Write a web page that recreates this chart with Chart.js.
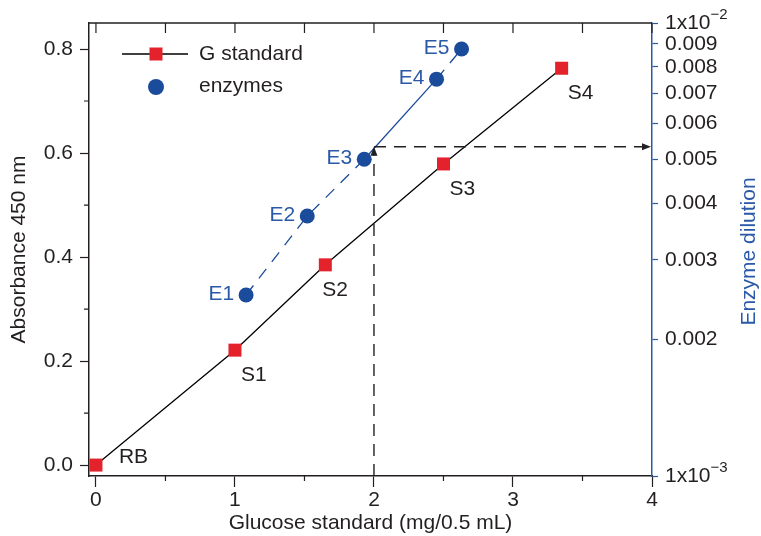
<!DOCTYPE html>
<html>
<head>
<meta charset="utf-8">
<script src="https://cdn.jsdelivr.net/npm/chart.js@4.4.1/dist/chart.umd.min.js"></script>
<style>
  html, body { margin: 0; padding: 0; background: #fff; }
  #wrap { width: 761px; height: 536px; }
</style>
</head>
<body>
<div id="wrap"><canvas id="grafico"></canvas></div>
<script>
// curva estandar de glucosa
const stdNames = ['RB', 'S1', 'S2', 'S3', 'S4'];
const stdGlucose = [0, 1, 1.65, 2.5, 3.35];
const stdAbs = [0, 0.221, 0.385, 0.579, 0.763];

// muestras de enzima
const enzNames = ['E1', 'E2', 'E3', 'E4', 'E5'];
const enzGlucose = [1.08, 1.52, 1.93, 2.45, 2.63];
const enzAbs = [0.327, 0.479, 0.588, 0.742, 0.80];

// lectura de referencia (flechas)
const refGlucose = 2;
const refAbs = 0.612;

// ejes
const xTicks = [0, 1, 2, 3, 4];
const xMinor = [0.5, 1.5, 2.5, 3.5];
const yTicks = [0, 0.2, 0.4, 0.6, 0.8];
const yMinor = [0.1, 0.3, 0.5, 0.7];
const dilutionTicks = [0.001, 0.002, 0.003, 0.004, 0.005, 0.006, 0.007, 0.008, 0.009, 0.01];
const dilutionMin = 0.001;
const dilutionMax = 0.01;

const FONT = 'Liberation Sans, Arial, Helvetica, sans-serif';
const FS = 21;
const TXT = '#231f20';
const RED = '#e3222b';
const BLUE = '#1b4b9b';
const BLUE_TXT = '#2a59a8';

function pts(xs, ys) {
  return xs.map((x, i) => ({ x: x, y: ys[i] }));
}

// etiquetas de los puntos, ejes extra, flechas y leyenda
const decoraciones = {
  id: 'decoraciones',
  afterDatasetsDraw(chart) {
    const ctx = chart.ctx;
    const xs = chart.scales.x, ys = chart.scales.y, y2 = chart.scales.y2;
    const area = chart.chartArea;
    ctx.save();

    // linea superior + ticks hacia dentro
    ctx.strokeStyle = TXT;
    ctx.lineWidth = 1.5;
    ctx.beginPath();
    ctx.moveTo(area.left, area.top);
    ctx.lineTo(area.right, area.top);
    ctx.stroke();
    ctx.lineWidth = 1.2;
    ctx.beginPath();
    xTicks.concat(xMinor).forEach(v => {
      const px = xs.getPixelForValue(v);
      ctx.moveTo(px, area.top);
      ctx.lineTo(px, area.top + 10);
    });
    // ticks menores abajo e izquierda
    xMinor.forEach(v => {
      const px = xs.getPixelForValue(v);
      ctx.moveTo(px, area.bottom);
      ctx.lineTo(px, area.bottom + 5);
    });
    yMinor.forEach(v => {
      const py = ys.getPixelForValue(v);
      ctx.moveTo(area.left, py);
      ctx.lineTo(area.left - 5, py);
    });
    ctx.stroke();

    // flechas punteadas
    const ax = xs.getPixelForValue(refGlucose);
    const ay = ys.getPixelForValue(refAbs);
    ctx.setLineDash([12, 8]);
    ctx.lineWidth = 1.4;
    ctx.beginPath();
    ctx.moveTo(ax, area.bottom);
    ctx.lineTo(ax, ay + 7);
    ctx.moveTo(ax, ay);
    ctx.lineTo(area.right - 8, ay);
    ctx.stroke();
    ctx.setLineDash([]);
    ctx.fillStyle = TXT;
    ctx.beginPath();
    ctx.moveTo(ax, ay);
    ctx.lineTo(ax - 3.5, ay + 9);
    ctx.lineTo(ax + 3.5, ay + 9);
    ctx.closePath();
    ctx.fill();
    ctx.beginPath();
    ctx.moveTo(area.right - 1, ay);
    ctx.lineTo(area.right - 10, ay - 3.5);
    ctx.lineTo(area.right - 10, ay + 3.5);
    ctx.closePath();
    ctx.fill();

    // etiquetas de puntos
    ctx.font = FS + 'px ' + FONT;
    ctx.textBaseline = 'middle';
    ctx.fillStyle = TXT;
    ctx.textAlign = 'left';
    stdNames.forEach((n, i) => {
      const px = xs.getPixelForValue(stdGlucose[i]);
      const py = ys.getPixelForValue(stdAbs[i]);
      if (i === 0) ctx.fillText(n, px + 23, py - 8);
      else ctx.fillText(n, px + (i === 2 ? -3 : 6), py + 25);
    });
    ctx.fillStyle = BLUE_TXT;
    ctx.textAlign = 'right';
    enzNames.forEach((n, i) => {
      const px = xs.getPixelForValue(enzGlucose[i]);
      const py = ys.getPixelForValue(enzAbs[i]);
      ctx.fillText(n, px - 12, py - 1);
    });

    // etiquetas 1x10^n del eje derecho
    ctx.fillStyle = TXT;
    ctx.textAlign = 'left';
    [dilutionMin, dilutionMax].forEach(v => {
      const py = y2.getPixelForValue(v);
      const exp = Math.round(Math.log10(v));
      ctx.font = FS + 'px ' + FONT;
      ctx.fillText('1x10', 665, py);
      const w = ctx.measureText('1x10').width;
      ctx.font = '15px ' + FONT;
      ctx.fillText('\u2212' + (-exp), 665 + w, py - 8);
    });

    // titulo derecho
    ctx.font = FS + 'px ' + FONT;
    ctx.fillStyle = BLUE_TXT;
    ctx.textAlign = 'center';
    ctx.translate(749, (area.top + area.bottom) / 2 + 2);
    ctx.rotate(-Math.PI / 2);
    ctx.fillText('Enzyme dilution', 0, 0);
    ctx.restore();

    // leyenda
    ctx.save();
    ctx.strokeStyle = '#000';
    ctx.lineWidth = 1.3;
    ctx.beginPath();
    ctx.moveTo(122, 54);
    ctx.lineTo(188, 54);
    ctx.stroke();
    ctx.fillStyle = RED;
    ctx.fillRect(149.5, 47.5, 13, 13);
    ctx.fillStyle = BLUE;
    ctx.beginPath();
    ctx.arc(156, 87, 8, 0, Math.PI * 2);
    ctx.fill();
    ctx.font = FS + 'px ' + FONT;
    ctx.fillStyle = TXT;
    ctx.textBaseline = 'middle';
    ctx.textAlign = 'left';
    ctx.fillText('G standard', 199, 54);
    ctx.fillText('enzymes', 199, 86);
    ctx.restore();
  }
};

const grafico = new Chart(document.getElementById('grafico'), {
  type: 'scatter',
  data: {
    datasets: [
      {
        label: 'G standard',
        data: pts(stdGlucose, stdAbs),
        showLine: true,
        borderColor: '#000',
        borderWidth: 1.3,
        pointStyle: 'rect',
        pointRadius: 9.2,
        pointHoverRadius: 9.2,
        pointBackgroundColor: RED,
        pointBorderWidth: 0,
        yAxisID: 'y'
      },
      {
        label: 'enzymes',
        data: pts(enzGlucose, enzAbs),
        showLine: true,
        borderColor: BLUE,
        borderWidth: 1.3,
        segment: {
          borderDash: c => (c.p0DataIndex === 2 ? [] : [12, 9])
        },
        pointStyle: 'circle',
        pointRadius: 7.5,
        pointHoverRadius: 7.5,
        pointBackgroundColor: BLUE,
        pointBorderWidth: 0,
        yAxisID: 'y'
      }
    ]
  },
  options: {
    responsive: true,
    maintainAspectRatio: false,
    animation: false,
    layout: { padding: { top: 23, left: 0, right: 0, bottom: 0 } },
    plugins: {
      legend: { display: false },
      tooltip: { enabled: false }
    },
    scales: {
      x: {
        type: 'linear',
        position: 'bottom',
        min: -0.05,
        max: 4,
        afterFit: s => { s.height = 60; },
        afterBuildTicks: s => { s.ticks = xTicks.map(v => ({ value: v })); },
        ticks: {
          font: { family: FONT, size: FS },
          color: TXT,
          padding: 1,
          callback: v => String(v)
        },
        grid: { drawOnChartArea: false, tickLength: 11, tickColor: TXT, tickWidth: 1.2 },
        border: { color: TXT, width: 1.5 },
        title: {
          display: true,
          text: 'Glucose standard (mg/0.5 mL)',
          font: { family: FONT, size: FS },
          color: TXT,
          padding: { top: 0, bottom: 0 }
        }
      },
      y: {
        type: 'linear',
        position: 'left',
        min: -0.021,
        max: 0.85,
        afterFit: s => { s.width = 89; },
        afterBuildTicks: s => { s.ticks = yTicks.map(v => ({ value: v })); },
        ticks: {
          font: { family: FONT, size: FS },
          color: TXT,
          padding: 7,
          callback: v => v.toFixed(1)
        },
        grid: { drawOnChartArea: false, tickLength: 9, tickColor: TXT, tickWidth: 1.2 },
        border: { color: TXT, width: 1.5 },
        title: {
          display: true,
          text: 'Absorbance 450 nm',
          font: { family: FONT, size: FS },
          color: TXT,
          padding: { top: 7, bottom: 0 }
        }
      },
      y2: {
        type: 'logarithmic',
        position: 'right',
        min: dilutionMin,
        max: dilutionMax,
        afterFit: s => { s.width = 109; },
        afterBuildTicks: s => { s.ticks = dilutionTicks.map(v => ({ value: v })); },
        ticks: {
          font: { family: FONT, size: FS },
          color: TXT,
          padding: 7,
          autoSkip: false,
          callback: v => {
            const r = Math.round(v * 1000);
            if (r === 1 || r === 10) return '';
            return (r / 1000).toFixed(3);
          }
        },
        grid: { drawOnChartArea: false, tickLength: 6, tickColor: BLUE_TXT, tickWidth: 1.2 },
        border: { color: BLUE_TXT, width: 1.5 }
      }
    }
  },
  plugins: [decoraciones]
});
</script>
</body>
</html>
